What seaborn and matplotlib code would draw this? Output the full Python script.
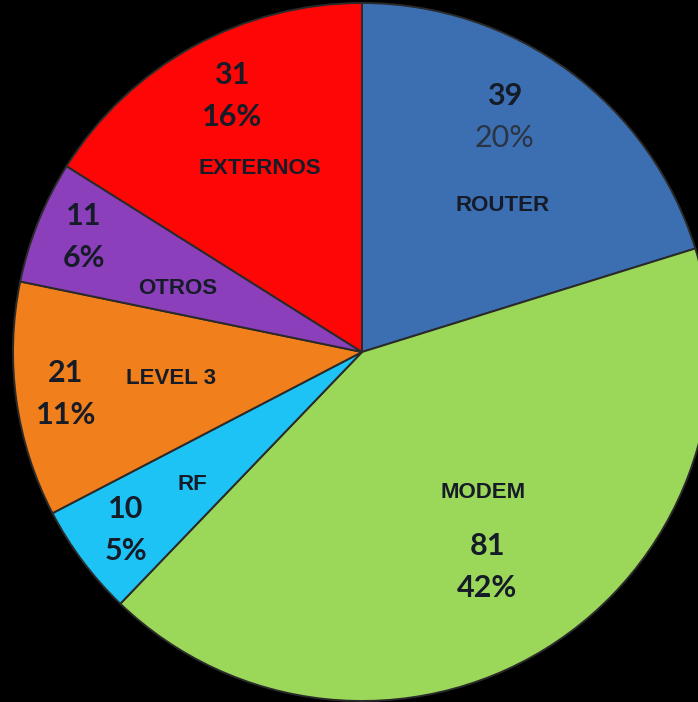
import matplotlib
matplotlib.use("Agg")
import matplotlib.pyplot as plt
import seaborn as sns

# data
categories = ["ROUTER", "MODEM", "RF", "LEVEL 3", "OTROS", "EXTERNOS"]
counts = [39, 81, 10, 21, 11, 31]
colors = ["#3b6fb2", "#9bd85a", "#1ec3f6", "#f07f1c", "#8b3fba", "#fe0606"]

sns.set_theme(style="white")
plt.rcParams["font.family"] = ["Liberation Sans", "DejaVu Sans"]

fig = plt.figure(figsize=(6.98, 7.02), dpi=100, facecolor="black")
ax = fig.add_axes([0, 0, 1, 1])
ax.set_facecolor("black")

wedges, _ = ax.pie(counts, colors=colors, startangle=90, counterclock=False,
                   radius=1.0,
                   wedgeprops=dict(edgecolor="#2a2a2a", linewidth=1.4))

# pie centre sits at pixel (362, 352) with radius ~349 px
r_px = 349.0
ax.set_xlim(-362 / r_px, (698 - 362) / r_px)
ax.set_ylim((352 - 702) / r_px, 352 / r_px)
ax.set_aspect("equal")
ax.axis("off")

total = sum(counts)
pcts = [f"{round(100 * c / total)}%" for c in counts]

# label positions in pixels: (count x, count y, name x, name y)
layout = {
    "ROUTER": (505, 96, 503, 206),
    "MODEM": (487, 546, 483, 493),
    "RF": (126, 509, 192, 484),
    "LEVEL 3": (66, 373, 171, 378),
    "OTROS": (84, 216, 178, 289),
    "EXTERNOS": (232, 75, 260, 169),
}

txt_col = "#161b28"
num_font = ["Lato", "DejaVu Sans"]
for cat, c, p in zip(categories, counts, pcts):
    cx, cy, nx, ny = layout[cat]
    fig.text(cx / 698, 1 - cy / 702, str(c), ha="center", va="center",
             fontsize=22, fontweight="bold", family=num_font, color=txt_col)
    w = "normal" if cat == "ROUTER" else "bold"
    pc = "#2b3444" if cat == "ROUTER" else txt_col
    fig.text(cx / 698, 1 - (cy + 42) / 702, p, ha="center", va="center",
             fontsize=22, fontweight=w, family=num_font, color=pc)
    fig.text(nx / 698, 1 - ny / 702, cat, ha="center", va="center",
             fontsize=16, fontweight="bold", color=txt_col)

fig.savefig("out.png", dpi=100, facecolor="black")
